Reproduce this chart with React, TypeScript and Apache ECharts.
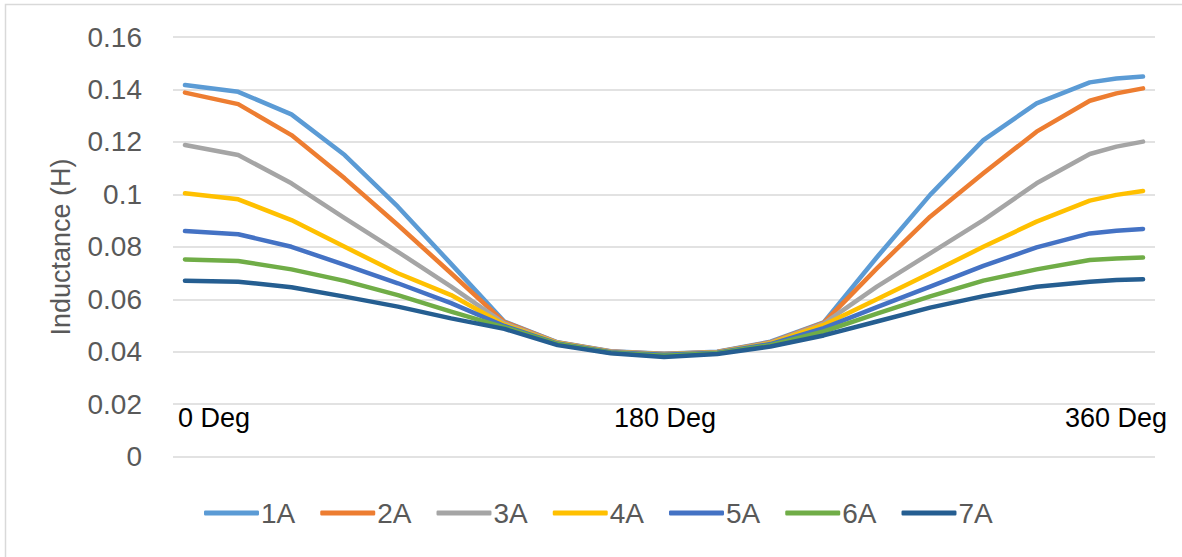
import React, { useEffect, useRef } from "react";
import * as echarts from "echarts";

const degrees = [0, 20, 40, 60, 80, 100, 120, 140, 160, 180, 200, 220, 240, 260, 280, 300, 320, 340, 350, 360];
const seriesNames = ["1A", "2A", "3A", "4A", "5A", "6A", "7A"];
const colors = ["#5B9BD5", "#ED7D31", "#A5A5A5", "#FFC000", "#4472C4", "#70AD47", "#255E91"];

const s1A = [0.1417, 0.1391, 0.1305, 0.115, 0.0953, 0.0735, 0.0515, 0.0436, 0.0402, 0.0392, 0.04, 0.0438, 0.0512, 0.076, 0.0998, 0.1207, 0.1347, 0.1427, 0.1442, 0.1449];
const s2A = [0.1388, 0.1344, 0.1226, 0.1061, 0.0883, 0.0699, 0.0513, 0.0435, 0.0401, 0.0391, 0.0399, 0.0436, 0.051, 0.0718, 0.0915, 0.108, 0.1239, 0.1357, 0.1385, 0.1404];
const s3A = [0.1188, 0.115, 0.1042, 0.0909, 0.0781, 0.0648, 0.0508, 0.0434, 0.04, 0.039, 0.0398, 0.0434, 0.0507, 0.0648, 0.0775, 0.0902, 0.1042, 0.1154, 0.1182, 0.1201];
const s4A = [0.1004, 0.0981, 0.0902, 0.08, 0.0699, 0.0616, 0.0503, 0.0433, 0.0399, 0.0389, 0.0397, 0.0432, 0.0502, 0.06, 0.0699, 0.08, 0.0896, 0.0976, 0.0998, 0.1013];
const s5A = [0.086, 0.0848, 0.08, 0.0731, 0.0661, 0.0585, 0.0498, 0.0431, 0.0398, 0.0388, 0.0396, 0.0429, 0.049, 0.057, 0.0648, 0.0727, 0.0798, 0.0851, 0.0861, 0.0868];
const s6A = [0.0752, 0.0746, 0.0714, 0.067, 0.0616, 0.0553, 0.0493, 0.0429, 0.0396, 0.0385, 0.0394, 0.0425, 0.0477, 0.0545, 0.0611, 0.0671, 0.0714, 0.075, 0.0755, 0.0759];
const s7A = [0.0671, 0.0667, 0.0646, 0.061, 0.0572, 0.0527, 0.0487, 0.0425, 0.0394, 0.038, 0.0391, 0.042, 0.0462, 0.0515, 0.0568, 0.0612, 0.0648, 0.0667, 0.0673, 0.0676];
const allSeries = [s1A, s2A, s3A, s4A, s5A, s6A, s7A];

const xTickLabels = ["0 Deg", "180 Deg", "360 Deg"];
const yAxisTitle = "Inductance (H)";

const FONT = "'Liberation Sans', Arial, sans-serif";
const TEXT_COLOR = "#595959";

export default function App() {
  const ref = useRef<HTMLDivElement>(null);

  useEffect(() => {
    if (!ref.current) return;
    const chart = echarts.init(ref.current, undefined, { renderer: "svg" });
    const option: any = {
      animation: false,
      backgroundColor: "#ffffff",
      textStyle: { fontFamily: FONT },
      grid: { left: 173, right: 27, top: 37, bottom: 100.4 },
      xAxis: {
        type: "value",
        min: -4.5,
        max: 364.5,
        axisLine: { show: false },
        axisTick: { show: false },
        axisLabel: { show: false },
        splitLine: { show: false },
      },
      yAxis: {
        type: "value",
        min: 0,
        max: 0.16,
        interval: 0.02,
        axisLine: { show: false },
        axisTick: { show: false },
        axisLabel: {
          color: TEXT_COLOR,
          fontSize: 28,
          fontFamily: FONT,
          margin: 31,
          formatter: (v: number) => String(+v.toFixed(2)),
        },
        splitLine: { lineStyle: { color: "#D9D9D9", width: 1.5 } },
      },
      legend: {
        data: seriesNames,
        left: 204,
        top: 499,
        padding: 0,
        itemWidth: 55,
        itemHeight: 5,
        itemGap: 25,
        icon: "roundRect",
        textStyle: { color: TEXT_COLOR, fontSize: 28, fontFamily: FONT, padding: [0, 0, 0, -3] },
      },
      series: seriesNames.map((name, i) => ({
        name,
        type: "line",
        data: degrees.map((d, j) => [d, allSeries[i][j]]),
        showSymbol: false,
        symbol: "none",
        color: colors[i],
        lineStyle: { color: colors[i], width: 4.5, cap: "round", join: "round" },
      })),
      graphic: [
        {
          type: "polyline",
          shape: { points: [[5.5, 557], [5.5, 4.5], [1182, 4.5]] },
          style: { stroke: "#D9D9D9", lineWidth: 1.5, fill: null },
          silent: true,
        },
        {
          type: "text",
          x: 61,
          y: 247,
          rotation: Math.PI / 2,
          style: {
            text: yAxisTitle,
            fill: TEXT_COLOR,
            font: `27px ${FONT}`,
            align: "center",
            verticalAlign: "middle",
          },
        },
        {
          type: "text",
          x: 178,
          y: 418,
          style: { text: xTickLabels[0], fill: "#000000", font: `27px ${FONT}`, align: "left", verticalAlign: "middle" },
        },
        {
          type: "text",
          x: 665,
          y: 418,
          style: { text: xTickLabels[1], fill: "#000000", font: `27px ${FONT}`, align: "center", verticalAlign: "middle" },
        },
        {
          type: "text",
          x: 1167,
          y: 418,
          style: { text: xTickLabels[2], fill: "#000000", font: `27px ${FONT}`, align: "right", verticalAlign: "middle" },
        },
      ],
    };
    chart.setOption(option);
    return () => chart.dispose();
  }, []);

  return (
    <div
      ref={ref}
      style={{ position: "fixed", left: 0, top: 0, width: 1182, height: 557, background: "#fff" }}
    />
  );
}
